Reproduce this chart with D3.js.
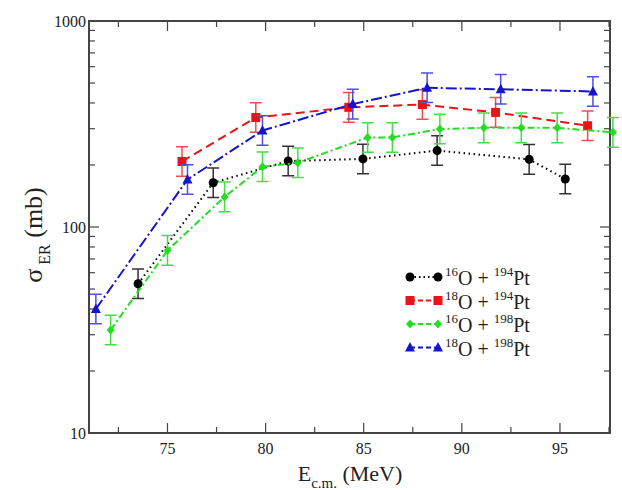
<!DOCTYPE html>
<html><head><meta charset="utf-8">
<script src="https://cdn.jsdelivr.net/npm/d3@7/dist/d3.min.js"></script>
<style>body{margin:0;background:#fff}</style>
</head><body><svg id="c" width="622" height="490" font-family="'Liberation Serif', 'DejaVu Serif', 'Times New Roman', serif"></svg>
<script>
const xTicks=[75,80,85,90,95];
const yTicks=[10,100,1000];
const e1=[73.5,77.33,81.15,84.96,88.74,93.43,95.27];
const v1=[53,164,209,214,235,213,171];
const e2=[75.74,79.5,84.24,87.99,91.72,96.41];
const v2=[208,340,381,393,360,310];
const e3=[72.1,75.0,77.91,79.84,81.64,85.2,86.46,88.88,91.12,93.03,94.86,97.7];
const v3=[31.6,77,140,196,205,272,272,299,303,303,303,288];
const e4=[71.35,76.02,79.84,84.44,88.23,91.98,96.68];
const v4=[40,170,294,395,474,466,455];
const relErr=0.18;
const series=[
 {name:["16","194"],e:e1,v:v1,color:"#000",err:"#333",dash:"1.5,3.5",shape:"circle"},
 {name:["18","194"],e:e2,v:v2,color:"#e8141a",err:"#e85050",dash:"9,5",shape:"square"},
 {name:["16","198"],e:e3,v:v3,color:"#22dd22",err:"#44dd44",dash:"7,3,2,3",shape:"diamond"},
 {name:["18","198"],e:e4,v:v4,color:"#1515cc",err:"#5050dd",dash:"11,3,2,3",shape:"triangle"}];
const svg=d3.select("#c");
const L=89,R=610,T=21,B=433;
const x=d3.scaleLinear().domain([71,97.55]).range([L,R]);
const y=d3.scaleLog().domain([10,1000]).range([B,T]);
const g=svg.append("g");
const minorX=d3.range(72.5,97.6,2.5).filter(d=>!xTicks.includes(d));
const minorY=[];[10,100].forEach(b=>{for(let k=2;k<10;k++)minorY.push(b*k);});
function tick(x1,y1,x2,y2){g.append("line").attr("x1",x1).attr("y1",y1).attr("x2",x2).attr("y2",y2).attr("stroke","#444").attr("stroke-width",1.2);}
xTicks.forEach(d=>{tick(x(d),B,x(d),B-10);tick(x(d),T,x(d),T+10);});
minorX.forEach(d=>{tick(x(d),B,x(d),B-6);tick(x(d),T,x(d),T+6);});
yTicks.forEach(d=>{tick(L,y(d),L+10,y(d));tick(R,y(d),R-10,y(d));});
minorY.forEach(d=>{tick(L,y(d),L+6,y(d));tick(R,y(d),R-6,y(d));});
g.append("rect").attr("x",L).attr("y",T).attr("width",R-L).attr("height",B-T).attr("fill","none").attr("stroke","#444").attr("stroke-width",2);
xTicks.forEach(d=>g.append("text").attr("x",x(d)).attr("y",B+21).attr("text-anchor","middle").attr("font-size",16).attr("fill","#222").text(d));
yTicks.forEach(d=>g.append("text").attr("x",L-3).attr("y",y(d)+6).attr("text-anchor","end").attr("font-size",16).attr("fill","#222").text(d));
const xl=svg.append("text").attr("x",350).attr("y",481).attr("text-anchor","middle").attr("font-size",22).attr("fill","#222");
xl.append("tspan").text("E");xl.append("tspan").attr("font-size",15).attr("dy",7).text("c.m.");xl.append("tspan").attr("dy",-7).text(" (MeV)");
const yl=svg.append("text").attr("transform","translate(42,235) rotate(-90)").attr("text-anchor","middle").attr("font-size",26).attr("fill","#222");
yl.append("tspan").text("σ");yl.append("tspan").attr("font-size",16).attr("dy",8).text(" ER");yl.append("tspan").attr("dy",-8).text(" (mb)");
function marker(sel,s,cx,cy){
 if(s.shape==="circle")sel.append("circle").attr("cx",cx).attr("cy",cy).attr("r",4.5).attr("fill",s.color);
 else if(s.shape==="square")sel.append("rect").attr("x",cx-4.5).attr("y",cy-4.5).attr("width",9).attr("height",9).attr("fill",s.color);
 else if(s.shape==="diamond")sel.append("path").attr("d",`M${cx},${cy-4.5}L${cx+4},${cy}L${cx},${cy+4.5}L${cx-4},${cy}Z`).attr("fill",s.color);
 else sel.append("path").attr("d",`M${cx},${cy-5.5}L${cx+5},${cy+4}L${cx-5},${cy+4}Z`).attr("fill",s.color);
}
series.forEach(s=>{
 const pts=s.e.map((e,i)=>[e,s.v[i]]);
 const sg=svg.append("g");
 sg.append("path").attr("d",d3.line().x(d=>x(d[0])).y(d=>y(d[1]))(pts)).attr("fill","none").attr("stroke",s.color).attr("stroke-width",2).attr("stroke-dasharray",s.dash);
 pts.forEach(d=>{
  const cx=x(d[0]),y1=y(d[1]*(1+relErr)),y2=y(d[1]/(1+relErr));
  sg.append("path").attr("d",`M${cx},${y1}V${y2}M${cx-6},${y1}H${cx+6}M${cx-6},${y2}H${cx+6}`).attr("stroke",s.err).attr("stroke-width",1.5).attr("fill","none");
  marker(sg,s,cx,y(d[1]));
 });
});
series.forEach((s,i)=>{
 const ly=277+i*23.5;
 const lg=svg.append("g");
 lg.append("line").attr("x1",410).attr("x2",438).attr("y1",ly).attr("y2",ly).attr("stroke",s.color).attr("stroke-width",2).attr("stroke-dasharray",s.shape==="circle"?"1.5,3":"5,3");
 marker(lg,s,410,ly);marker(lg,s,438,ly);
 const t=lg.append("text").attr("x",445).attr("y",ly+8).attr("font-size",20).attr("fill","#222");
 t.append("tspan").attr("font-size",13).attr("dy",-9).text(s.name[0]);
 t.append("tspan").attr("dy",9).text("O + ");
 t.append("tspan").attr("font-size",13).attr("dy",-9).text(s.name[1]);
 t.append("tspan").attr("dy",9).text("Pt");
});
</script></body></html>
